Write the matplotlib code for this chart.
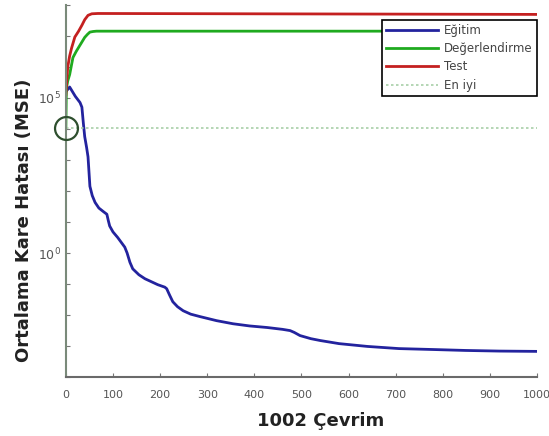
import numpy as np
import matplotlib.pyplot as plt
from matplotlib.ticker import LogLocator, FuncFormatter

# Eğitim (training) MSE, read at the curve's breakpoints
egitim_x = [0, 8, 20, 30, 34, 37, 40, 44, 47, 51, 56, 62, 70, 80, 87, 90, 93,
            100, 110, 125, 130, 136, 142, 155, 168, 178, 195, 210, 214, 220,
            227, 237, 249, 265, 285, 320, 355, 390, 427, 460, 476, 485, 497,
            520, 540, 580, 640, 707, 780, 849, 920, 1000]
egitim_exp = [5.2, 5.35, 5.05, 4.85, 4.7, 4.2, 3.75, 3.4, 3.1, 2.15, 1.85, 1.63,
              1.45, 1.33, 1.25, 1.05, 0.87, 0.68, 0.5, 0.19, 0.0, -0.3, -0.51,
              -0.7, -0.83, -0.9, -1.02, -1.1, -1.15, -1.35, -1.57, -1.73,
              -1.86, -1.97, -2.05, -2.18, -2.28, -2.35, -2.40, -2.46, -2.5,
              -2.56, -2.66, -2.76, -2.82, -2.92, -3.01, -3.08, -3.11, -3.14,
              -3.16, -3.17]

# Değerlendirme (validation) MSE
deger_x = [0, 1, 4, 8, 15, 22, 30, 40, 46, 51, 58, 65, 1000]
deger_exp = [4.04, 5.3, 5.55, 5.75, 6.3, 6.5, 6.7, 6.95, 7.05, 7.12, 7.14, 7.15,
             7.15]

# Test MSE
test_x = [0, 2, 4, 8, 12, 19, 27, 34, 40, 47, 55, 68, 1000]
test_exp = [5.1, 5.6, 6.0, 6.35, 6.6, 6.96, 7.15, 7.34, 7.52, 7.66, 7.71, 7.72,
            7.69]

en_iyi_x = 0
en_iyi_exp = 4.04

egitim_y = 10.0 ** np.array(egitim_exp)
deger_y = 10.0 ** np.array(deger_exp)
test_y = 10.0 ** np.array(test_exp)
en_iyi_y = 10.0 ** en_iyi_exp

fig = plt.figure(figsize=(5.49, 4.36), dpi=100)
ax = fig.add_axes([0.120, 0.135, 0.858, 0.854])

lw = 2.0
ax.plot(egitim_x, egitim_y, color='#23239e', lw=lw, label='Eğitim')
ax.plot(deger_x, deger_y, color='#1faa1f', lw=lw, label='Değerlendirme')
ax.plot(test_x, test_y, color='#c42020', lw=lw, label='Test')
ax.plot([0, 1000], [en_iyi_y, en_iyi_y], color='#a8cfa8', lw=1.2,
        linestyle=(0, (1.5, 1.5)), label='En iyi')
ax.plot(en_iyi_x, en_iyi_y, 'o', ms=16.5, mfc='none', mec='#2e4f2e', mew=1.6,
        clip_on=False, zorder=5)

ax.set_yscale('log')
ax.set_xlim(0, 1000)
ax.set_ylim(1e-4, 1e8)
ax.set_xticks(np.arange(0, 1001, 100))
ax.yaxis.set_major_locator(LogLocator(base=10, numticks=20))
ax.yaxis.set_minor_locator(plt.NullLocator())


def y_etiket(v, pos):
    e = int(round(np.log10(v)))
    return r'$10^{%d}$' % e if e in (0, 5) else ''


ax.yaxis.set_major_formatter(FuncFormatter(y_etiket))
ax.tick_params(direction='in', length=3, width=0.8, colors='#777777',
               labelcolor='#555555', labelsize=8)
ax.tick_params(axis='x', pad=9)
ax.tick_params(axis='y', labelsize=9)

for s in ['top', 'right']:
    ax.spines[s].set_visible(False)
ax.spines['left'].set_color('#7a8a7a')
ax.spines['bottom'].set_color('#6a6a6a')
ax.spines['left'].set_linewidth(1.5)
ax.spines['bottom'].set_linewidth(1.5)

ax.set_xlabel('1002 Çevrim', fontsize=13, fontweight='bold', color='#222222')
ax.xaxis.set_label_coords(0.54, -0.093)
ax.set_ylabel('Ortalama Kare Hatası (MSE)', fontsize=13, fontweight='bold',
              color='#222222')
ax.yaxis.set_label_coords(-0.07, 0.42)

leg = ax.legend(loc='upper right', bbox_to_anchor=(1.0, 0.96), fontsize=8.5,
                fancybox=False, framealpha=1, edgecolor='black',
                borderpad=0.35, labelspacing=0.45, handlelength=4.4,
                handletextpad=0.5, borderaxespad=0)
leg.get_frame().set_linewidth(1.2)
for t in leg.get_texts():
    t.set_color('#444444')

fig.savefig('out.png', dpi=100)
